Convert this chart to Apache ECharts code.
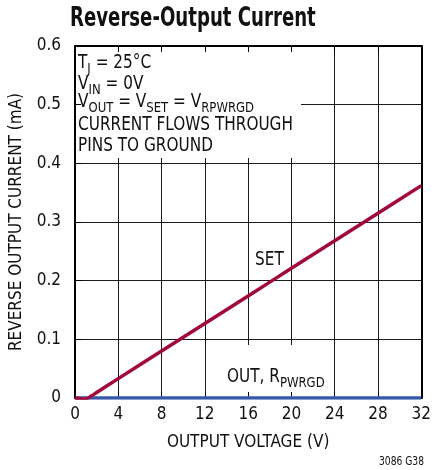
<!DOCTYPE html>
<html>
<head>
<meta charset="utf-8">
<script src="https://cdn.jsdelivr.net/npm/echarts@6/dist/echarts.min.js"></script>
<style>
  html, body { margin: 0; padding: 0; background: #fff; }
  #chart { width: 434px; height: 470px; }
</style>
</head>
<body>
<div id="chart"></div>
<script>
// Reverse-output current vs output voltage
const xTicks = [0, 4, 8, 12, 16, 20, 24, 28, 32];
const yTicks = [0, 0.1, 0.2, 0.3, 0.4, 0.5, 0.6];

// SET pin current (mA) vs output voltage (V)
const setVoltage = [0, 0.4, 0.8, 1.2, 1.6, 2, 4, 8, 12, 16, 20, 24, 28, 32];
const setCurrent = [0, -0.001, -0.002, 0.000, 0.0045, 0.0094, 0.033, 0.080, 0.127, 0.174, 0.221, 0.268, 0.315, 0.362];

// OUT / RPWRGD current (mA) vs output voltage (V)
const outVoltage = [0, 4, 8, 12, 16, 20, 24, 28, 32];
const outCurrent = [0, 0, 0, 0, 0, 0, 0, 0, 0];

// Test-condition notes, one rich-text string per line
const noteLines = [
  '{n|T}{s|J}{n| = 25°C}',
  '{n|V}{s|IN}{n| = 0V}',
  '{n|V}{s|OUT}{n| = V}{s|SET}{n| = V}{s|RPWRGD}',
  '{n|CURRENT FLOWS THROUGH}',
  '{n|PINS TO GROUND}'
];
const noteTops = [54, 75, 93, 116, 137];

const FONT = '"Liberation Sans Narrow", "DejaVu Sans Condensed", "Arial Narrow", sans-serif';
const RED = '#A0093A';
const BLUE = '#3A58A8';
const INK = '#111';

const chart = echarts.init(document.getElementById('chart'), null, { renderer: 'canvas' });

const pairs = (xs, ys) => xs.map((x, i) => [x, ys[i]]);

const xBase = { type: 'value', min: xTicks[0], max: xTicks[xTicks.length - 1], interval: 4 };
const yBase = { type: 'value', min: yTicks[0], max: yTicks[yTicks.length - 1], interval: 0.1 };

const frameLine = { show: true, onZero: false, lineStyle: { color: '#000', width: 2 } };
const innerTick = { show: true, inside: true, length: 6, lineStyle: { color: '#000', width: 1 } };

const richStyle = {
  n: { fontFamily: FONT, fontSize: 19, lineHeight: 19, fill: INK, verticalAlign: 'middle' },
  s: { fontFamily: FONT, fontSize: 14.5, lineHeight: 14, fill: INK, verticalAlign: 'bottom', padding: [0, 0, -4, 0] }
};

const narrowText = (x, y, text, extra) => Object.assign({
  type: 'text', z: 3, x: x, y: y, scaleX: 0.895, scaleY: 1,
  style: { text: text, rich: richStyle, verticalAlign: 'top', align: 'left' }
}, extra || {});

const graphics = [
  // conditions box (blanks the grid behind it)
  { type: 'rect', z: 2, shape: { x: 73, y: 47, width: 228, height: 111 }, style: { fill: '#fff' } },
  // OUT label box
  { type: 'rect', z: 2, shape: { x: 222, y: 345, width: 110, height: 47 }, style: { fill: '#fff' } },
  // title
  {
    type: 'text', z: 3, x: 70, y: 6, scaleX: 0.775,
    style: { text: 'Reverse-Output Current', fontFamily: FONT, fontWeight: 'bold', fontSize: 26, fill: INK, verticalAlign: 'top' }
  },
  narrowText(227, 368, '{n|OUT, R}{s|PWRGD}'),
  narrowText(255, 251, '{n|SET}'),
  {
    type: 'text', z: 3, x: 424, y: 456, scaleX: 0.85,
    style: { text: '3086 G38', fontFamily: FONT, fontSize: 12, fill: INK, align: 'right', verticalAlign: 'top' }
  }
];
noteLines.forEach((t, i) => graphics.push(narrowText(78, noteTops[i], t)));

const option = {
  animation: false,
  backgroundColor: '#fff',
  grid: { left: 72, right: 11, top: 46, bottom: 72 },
  xAxis: [
    Object.assign({}, xBase, {
      position: 'bottom', z: 5,
      axisLine: frameLine, axisTick: innerTick,
      splitLine: { show: false },
      axisLabel: {
        margin: 8, color: INK, fontFamily: FONT, fontSize: 17,
        formatter: v => String(v)
      },
      name: 'OUTPUT VOLTAGE (V)', nameLocation: 'middle', nameGap: 36,
      nameTextStyle: { fontFamily: FONT, fontSize: 17, color: INK }
    }),
    Object.assign({}, xBase, {
      position: 'top', z: 5,
      axisLine: frameLine, axisTick: innerTick,
      axisLabel: { show: false }, splitLine: { show: false }
    }),
    Object.assign({}, xBase, {
      position: 'bottom', z: 0,
      axisLine: { show: false }, axisTick: { show: false }, axisLabel: { show: false },
      splitLine: { show: true, lineStyle: { color: '#1a1a1a', width: 1 } }
    })
  ],
  yAxis: [
    Object.assign({}, yBase, {
      position: 'left', z: 5,
      axisLine: frameLine, axisTick: innerTick,
      splitLine: { show: false },
      axisLabel: {
        margin: 14, color: INK, fontFamily: FONT, fontSize: 17,
        formatter: v => (v === 0 ? '0' : v.toFixed(1))
      },
      name: 'REVERSE OUTPUT CURRENT (mA)', nameLocation: 'middle', nameGap: 50,
      nameTextStyle: { fontFamily: FONT, fontSize: 17, color: INK }
    }),
    Object.assign({}, yBase, {
      position: 'right', z: 5,
      axisLine: frameLine, axisTick: { show: false },
      axisLabel: { show: false }, splitLine: { show: false }
    }),
    Object.assign({}, yBase, {
      position: 'left', z: 0,
      axisLine: { show: false }, axisTick: { show: false }, axisLabel: { show: false },
      splitLine: { show: true, lineStyle: { color: '#1a1a1a', width: 1 } }
    })
  ],
  graphic: graphics,
  series: [
    {
      name: 'OUT, RPWRGD', type: 'line', z: 6,
      xAxisIndex: 0, yAxisIndex: 0,
      data: pairs(outVoltage, outCurrent),
      showSymbol: false, symbol: 'none',
      lineStyle: { color: BLUE, width: 3.5 }
    },
    {
      name: 'SET', type: 'line', z: 7,
      xAxisIndex: 0, yAxisIndex: 0,
      data: pairs(setVoltage, setCurrent),
      showSymbol: false, symbol: 'none', smooth: 0.3,
      lineStyle: { color: RED, width: 3.5 }
    }
  ]
};

chart.setOption(option);
</script>
</body>
</html>
